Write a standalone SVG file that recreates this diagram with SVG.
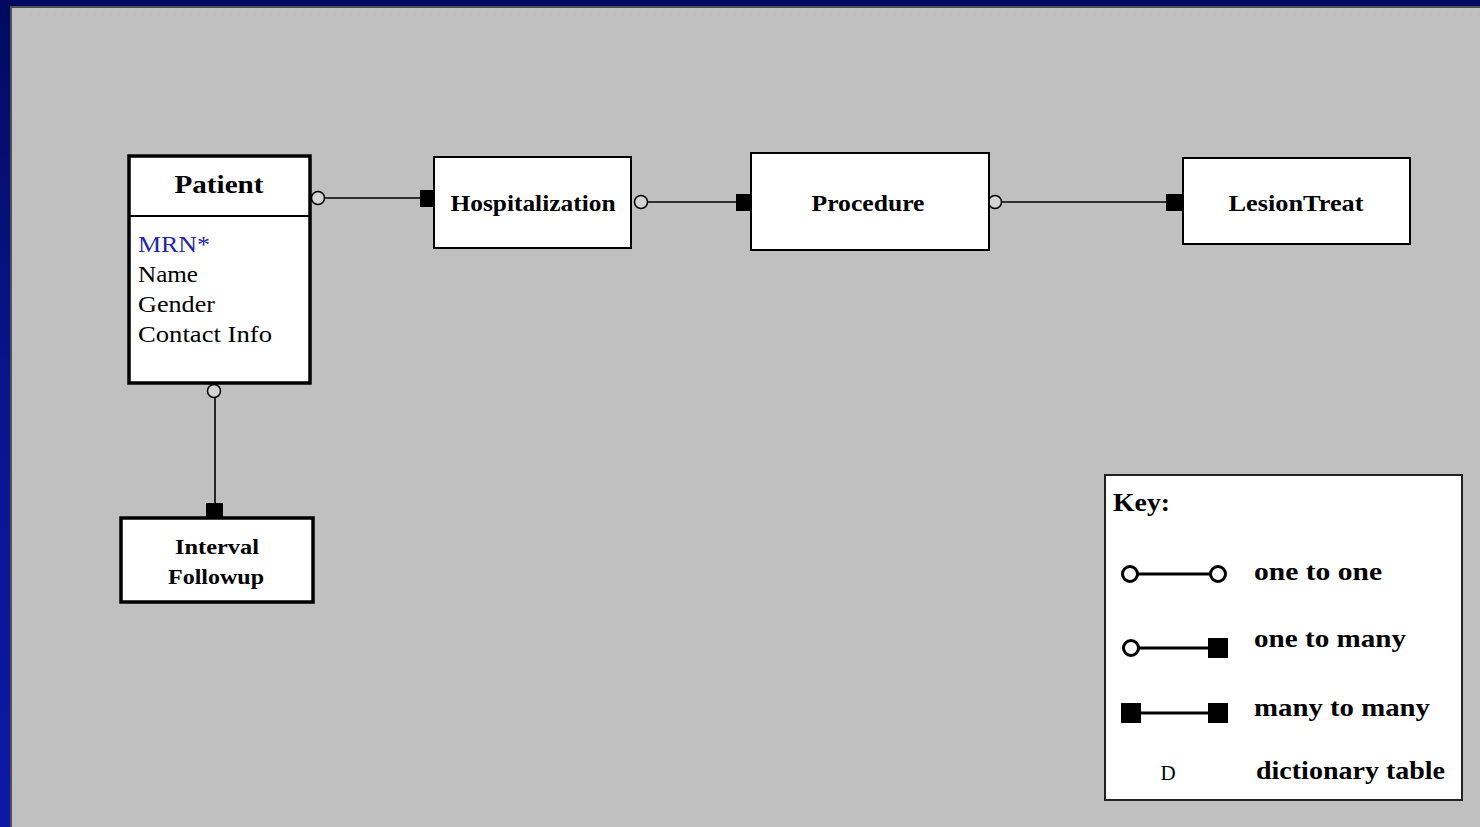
<svg xmlns="http://www.w3.org/2000/svg" width="1480" height="827" viewBox="0 0 1480 827">
  <defs>
    <linearGradient id="frameBlue" x1="0" y1="0" x2="0" y2="1">
      <stop offset="0" stop-color="#000a60"/>
      <stop offset="0.5" stop-color="#0a1490"/>
      <stop offset="1" stop-color="#0c18a8"/>
    </linearGradient>
  </defs>
  <style>
    .title { font-family: "Liberation Serif", "DejaVu Serif", serif; font-weight: bold; fill: #000; text-anchor: middle; }
    .attr { font-family: "Liberation Serif", "DejaVu Serif", serif; font-size: 23px; fill: #000; }
    .key { font-family: "Liberation Serif", "DejaVu Serif", serif; font-weight: bold; font-size: 25px; fill: #000; }
    .box { fill: #fff; stroke: #000; stroke-width: 2; }
    .thick { fill: #fff; stroke: #000; stroke-width: 3.5; }
    .line { stroke: #000; stroke-width: 1.6; fill: none; }
    .one { fill: #d4d4d4; stroke: #000; stroke-width: 1.5; }
    .many { fill: #000; }
    .kline { stroke: #000; stroke-width: 3; }
    .kone { fill: #fff; stroke: #000; stroke-width: 3; }
  </style>

  <!-- frame and canvas -->
  <rect x="0" y="0" width="1480" height="827" fill="url(#frameBlue)"/>
  <rect x="10" y="6" width="1470" height="821" fill="#505050"/>
  <rect x="12" y="8" width="1468" height="819" fill="#c0c0c0"/>
  <line x1="30" y1="14" x2="1480" y2="14" stroke="#aaaaaa" stroke-width="1" stroke-dasharray="1 7"/>

  <!-- connectors -->
  <g id="connectors">
    <line class="line" x1="324" y1="198" x2="422" y2="198"/>
    <circle class="one" cx="318" cy="198" r="6.5"/>
    <rect class="many" x="420" y="190" width="16" height="17"/>

    <line class="line" x1="647" y1="202" x2="738" y2="202"/>
    <circle class="one" cx="641" cy="202" r="6.5"/>
    <rect class="many" x="736" y="194" width="17" height="17"/>

    <line class="line" x1="1001" y1="202" x2="1168" y2="202"/>
    <circle class="one" cx="995" cy="202" r="6.5"/>
    <rect class="many" x="1166" y="194" width="18" height="17"/>

    <line class="line" x1="215" y1="397" x2="215" y2="505"/>
    <circle class="one" cx="214" cy="391" r="6.5"/>
    <rect class="many" x="206" y="503" width="17" height="15"/>
  </g>

  <!-- Patient entity -->
  <g id="patient">
    <rect class="thick" x="129" y="156" width="181" height="227"/>
    <line x1="129" y1="216" x2="310" y2="216" stroke="#000" stroke-width="2"/>
    <text class="title" x="219" y="193" font-size="26" textLength="89" lengthAdjust="spacingAndGlyphs">Patient</text>
    <text class="attr" x="138" y="252" style="fill:#2424b0" textLength="72" lengthAdjust="spacingAndGlyphs">MRN*</text>
    <text class="attr" x="138" y="282" textLength="60" lengthAdjust="spacingAndGlyphs">Name</text>
    <text class="attr" x="138" y="312" textLength="77" lengthAdjust="spacingAndGlyphs">Gender</text>
    <text class="attr" x="138" y="342" textLength="134" lengthAdjust="spacingAndGlyphs">Contact Info</text>
  </g>

  <g id="hospitalization">
    <rect class="box" x="434" y="157" width="197" height="91"/>
    <text class="title" x="533" y="211" font-size="23" textLength="165" lengthAdjust="spacingAndGlyphs">Hospitalization</text>
  </g>

  <g id="procedure">
    <rect class="box" x="751" y="153" width="238" height="97"/>
    <text class="title" x="868" y="211" font-size="23" textLength="113" lengthAdjust="spacingAndGlyphs">Procedure</text>
  </g>

  <g id="lesiontreat">
    <rect class="box" x="1183" y="158" width="227" height="86"/>
    <text class="title" x="1296" y="211" font-size="23" textLength="135" lengthAdjust="spacingAndGlyphs">LesionTreat</text>
  </g>

  <g id="interval-followup">
    <rect class="thick" x="121" y="518" width="192" height="84"/>
    <text class="title" x="217" y="554" font-size="22" textLength="84" lengthAdjust="spacingAndGlyphs">Interval</text>
    <text class="title" x="216" y="584" font-size="22" textLength="96" lengthAdjust="spacingAndGlyphs">Followup</text>
  </g>

  <!-- legend -->
  <g id="key">
    <rect x="1105" y="475" width="357" height="325" fill="#fff" stroke="#222" stroke-width="2"/>
    <text class="key" x="1113" y="511" font-size="26" textLength="57" lengthAdjust="spacingAndGlyphs">Key:</text>

    <line class="kline" x1="1138" y1="574" x2="1210" y2="574"/>
    <circle class="kone" cx="1130" cy="574" r="7.5"/>
    <circle class="kone" cx="1218" cy="574" r="7.5"/>
    <text class="key" x="1254" y="580" textLength="128" lengthAdjust="spacingAndGlyphs">one to one</text>

    <line class="kline" x1="1138" y1="648" x2="1210" y2="648"/>
    <circle class="kone" cx="1131" cy="648" r="7.5"/>
    <rect class="many" x="1208" y="638" width="20" height="20"/>
    <text class="key" x="1254" y="647" textLength="152" lengthAdjust="spacingAndGlyphs">one to many</text>

    <line class="kline" x1="1138" y1="713" x2="1210" y2="713"/>
    <rect class="many" x="1121" y="703" width="20" height="20"/>
    <rect class="many" x="1208" y="703" width="20" height="20"/>
    <text class="key" x="1254" y="716" textLength="176" lengthAdjust="spacingAndGlyphs">many to many</text>

    <text x="1168" y="780" font-family="'Liberation Serif', 'DejaVu Serif', serif" font-size="21" text-anchor="middle" fill="#000">D</text>
    <text class="key" x="1256" y="779" textLength="189" lengthAdjust="spacingAndGlyphs">dictionary table</text>
  </g>
</svg>
